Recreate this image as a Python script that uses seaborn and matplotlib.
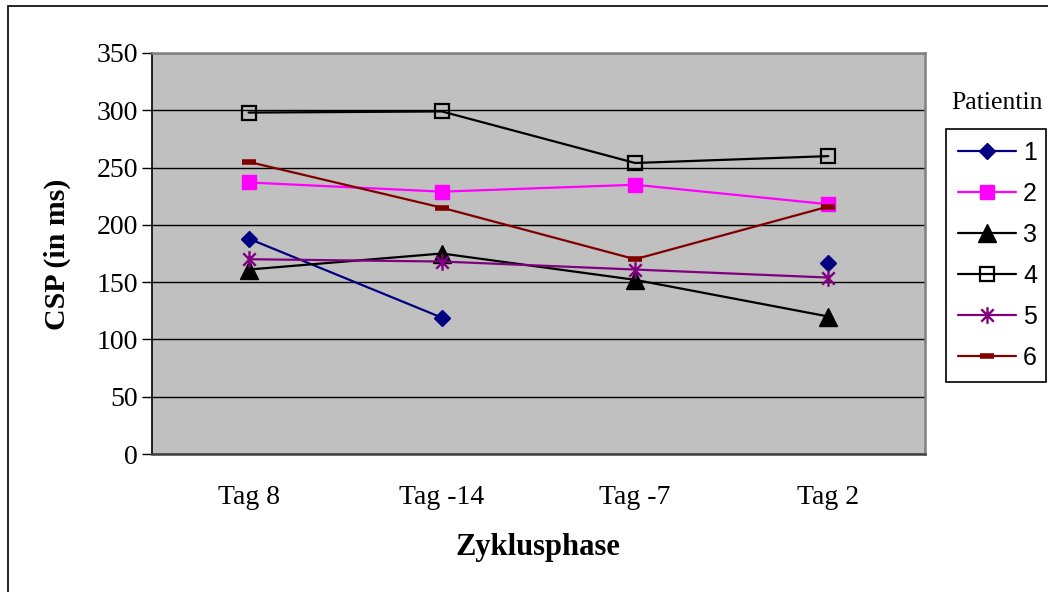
import numpy as np
import pandas as pd
import matplotlib
matplotlib.use("Agg")
import matplotlib.pyplot as plt
from matplotlib.path import Path
from matplotlib.patches import Rectangle
import seaborn as sns

# Cycle phases and CSP values (ms) per patient
phases = ["Tag 8", "Tag -14", "Tag -7", "Tag 2"]
patient_1 = [188, 119, np.nan, 167]
patient_2 = [237, 229, 235, 218]
patient_3 = [161, 175, 152, 120]
patient_4 = [298, 299, 254, 260]
patient_5 = [170, 168, 161, 154]
patient_6 = [255, 215, 170, 216]
patients = ["1", "2", "3", "4", "5", "6"]
y_ticks = [0, 50, 100, 150, 200, 250, 300, 350]

series = [patient_1, patient_2, patient_3, patient_4, patient_5, patient_6]

# asterisk marker: vertical stroke plus an X
star = Path(
    [(0, -1), (0, 1), (-0.75, -0.75), (0.75, 0.75), (-0.75, 0.75), (0.75, -0.75)],
    [Path.MOVETO, Path.LINETO, Path.MOVETO, Path.LINETO, Path.MOVETO, Path.LINETO],
)

styles = [
    dict(color="#000080", marker="D", markersize=8.5, markerfacecolor="#000080",
         markeredgecolor="#000080", markeredgewidth=1),
    dict(color="#FF00FF", marker="s", markersize=10.5, markerfacecolor="#FF00FF",
         markeredgecolor="#FF00FF", markeredgewidth=1),
    dict(color="#000000", marker="^", markersize=13, markerfacecolor="#000000",
         markeredgecolor="#000000", markeredgewidth=1),
    dict(color="#000000", marker="s", markersize=10, markerfacecolor="none",
         markeredgecolor="#000000", markeredgewidth=1.6),
    dict(color="#800080", marker=star, markersize=12, markerfacecolor="none",
         markeredgecolor="#800080", markeredgewidth=1.7),
    dict(color="#800000", marker="_", markersize=10, markerfacecolor="#800000",
         markeredgecolor="#800000", markeredgewidth=4),
]

sns.set_style("white")
plt.rcParams["font.family"] = ["Liberation Serif", "DejaVu Serif"]
plt.rcParams["text.color"] = "#000000"
plt.rcParams["axes.labelcolor"] = "#000000"
plt.rcParams["xtick.color"] = "#000000"
plt.rcParams["ytick.color"] = "#000000"

fig = plt.figure(figsize=(10.48, 5.92), dpi=100)
ax = fig.add_axes([152 / 1048, 1 - 454 / 592, (925 - 152) / 1048, (454 - 53) / 592])
ax.set_facecolor("#C0C0C0")

for name, vals, st in zip(patients, series, styles):
    df = pd.DataFrame({"pos": np.arange(len(phases)), "csp": vals})
    # split into contiguous runs so missing values leave a gap
    valid = df["csp"].notna()
    seg_id = (~valid).cumsum()
    first = True
    for _, seg in df[valid].groupby(seg_id[valid]):
        sns.lineplot(data=seg, x="pos", y="csp", ax=ax, estimator=None, sort=False,
                     linewidth=1.6, label=name if first else None, legend=False, **st)
        first = False

ax.set_xlim(-0.5, len(phases) - 0.5)
ax.set_ylim(0, 350)
ax.set_yticks(y_ticks)
ax.set_xticks(np.arange(len(phases)))
ax.set_xticklabels(phases)
ax.set_xticks(np.arange(-0.5, len(phases), 1.0), minor=True)
ax.tick_params(axis="x", which="major", length=0, pad=22, labelsize=20, labelcolor="#000000")
ax.tick_params(axis="x", which="minor", length=7, width=1, direction="out", color="#000000")
ax.tick_params(axis="y", which="major", length=7, width=1, direction="out", pad=3,
               labelsize=20, color="#000000", labelcolor="#000000", left=True)
ax.yaxis.grid(True, color="#000000", linewidth=1)
ax.xaxis.grid(False)
ax.set_axisbelow(True)

for side, col, lw in [("left", "#000000", 1.2), ("bottom", "#404040", 1.8),
                      ("top", "#808080", 1.8), ("right", "#808080", 1.8)]:
    ax.spines[side].set_visible(True)
    ax.spines[side].set_color(col)
    ax.spines[side].set_linewidth(lw)

ax.set_xlabel("")
ax.set_ylabel("")
fig.text(57 / 1048, 1 - 254 / 592, "CSP (in ms)", rotation=90, ha="center", va="center",
         fontsize=21.5, fontweight="bold", color="#000000")
fig.text(538 / 1048, 1 - 548 / 592, "Zyklusphase", ha="center", va="center",
         fontsize=22, fontweight="bold", color="#000000")

# legend box with its caption above
handles, labels = ax.get_legend_handles_labels()
leg = fig.legend(handles, labels, loc="upper left",
                 bbox_to_anchor=(946 / 1048, 1 - 129 / 592, 100 / 1048, 0),
                 mode="expand", borderaxespad=0, frameon=True, fancybox=False,
                 edgecolor="#000000", framealpha=1, handlelength=2.3, handletextpad=0.3,
                 labelspacing=0.68, borderpad=0.48, labelcolor="#000000",
                 prop={"family": ["Liberation Sans", "DejaVu Sans"], "size": 18})
leg.get_frame().set_linewidth(1.2)
fig.text(997 / 1048, 1 - 103 / 592, "Patientin", ha="center", va="center", fontsize=18.5,
         color="#000000")

# outer chart frame
fig.patches.append(Rectangle((8 / 1048, -0.05), 1.1, 1 - 6 / 592 + 0.05,
                             transform=fig.transFigure, fill=False,
                             edgecolor="#000000", linewidth=1.2, clip_on=False))

fig.savefig("out.png", dpi=100)
